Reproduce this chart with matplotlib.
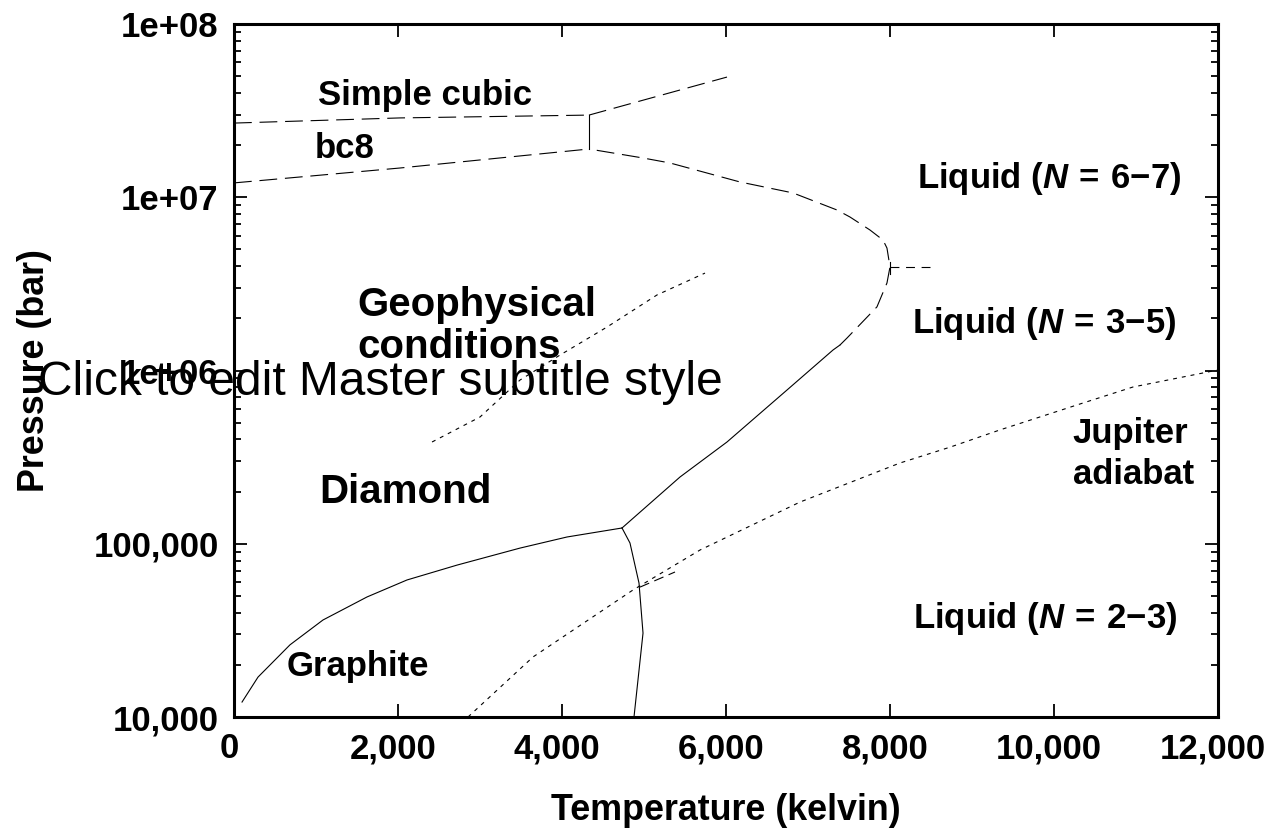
import numpy as np
import matplotlib
matplotlib.use("Agg")
import matplotlib.pyplot as plt
import matplotlib.transforms as mtransforms
from matplotlib.ticker import LogLocator, NullFormatter

plt.rcParams['font.family'] = ['Liberation Sans', 'DejaVu Sans']
plt.rcParams['mathtext.fontset'] = 'custom'
plt.rcParams['mathtext.rm'] = 'Liberation Sans:bold'
plt.rcParams['mathtext.it'] = 'Liberation Sans:italic:bold'
plt.rcParams['mathtext.bf'] = 'Liberation Sans:bold'

# --- data (temperature in K, pressure in bar) ---
graphite_diamond_T = [98, 293, 683, 1085, 1622, 2110, 2720, 3488, 4061, 4732]
graphite_diamond_P = [12200, 17000, 26100, 36300, 49300, 61800, 75300, 94400, 109400, 123300]

graphite_liquid_T = [4732, 4829, 4939, 4988, 4878]
graphite_liquid_P = [123300, 101000, 59300, 30500, 10000]

diamond_melt_T = [4732, 5439, 6012, 6744, 7305, 7390]
diamond_melt_P = [123300, 242800, 386600, 771600, 1.313e6, 1.403e6]

diamond_melt_dash_T = [7390, 7476, 7841, 7963, 8000, 7963, 7915, 7756, 7512, 7354, 6817, 6171, 5317, 4988, 4329]
diamond_melt_dash_P = [1.403e6, 1.54e6, 2.33e6, 3.2e6, 3.96e6, 5.09e6, 5.66e6, 6.47e6, 7.69e6, 8.44e6,
                       1.059e7, 1.225e7, 1.577e7, 1.685e7, 1.899e7]

bc8_diamond_T = [0, 2024, 4329]
bc8_diamond_P = [1.21e7, 1.475e7, 1.899e7]

sc_bc8_T = [0, 2024, 4329]
sc_bc8_P = [2.68e7, 2.87e7, 2.98e7]

sc_liquid_T = [4329, 6012]
sc_liquid_P = [2.98e7, 4.94e7]

triple_T = [4329, 4329]
triple_P = [2.98e7, 1.899e7]

liq_marker_T = [8000, 8500]
liq_marker_P = [3.96e6, 3.96e6]
liq_tick_T = [8000, 8000]
liq_tick_P = [4.23e6, 3.61e6]

short_dash_T = [4951, 5378]
short_dash_P = [56200, 68700]

geo_T = [2415, 3000, 3488, 3976, 4549, 5159, 5744]
geo_P = [386600, 539000, 881000, 1.228e6, 1.782e6, 2.73e6, 3.65e6]

jupiter_T = [2854, 3646, 4866, 5683, 6902, 8122, 8732, 9341, 10353, 10963, 12000]
jupiter_P = [10000, 22200, 54100, 92000, 174000, 292500, 361000, 454000, 649000, 803000, 1.007e6]

xticks = [0, 2000, 4000, 6000, 8000, 10000, 12000]
xtick_labels = ['0', '2,000', '4,000', '6,000', '8,000', '10,000', '12,000']
yticks = [1e4, 1e5, 1e6, 1e7, 1e8]
ytick_labels = ['10,000', '100,000', '1e+06', '1e+07', '1e+08']

fig = plt.figure(figsize=(12.68, 8.32), dpi=100)
ax = fig.add_axes([234/1268, 1-717/832, (1218-234)/1268, (717-24)/832])

lw = 0.8
dash = (16, 7)
dot = (3.5, 4.5)
ax.plot(graphite_diamond_T, graphite_diamond_P, color='black', lw=lw)
ax.plot(graphite_liquid_T, graphite_liquid_P, color='black', lw=lw)
ax.plot(diamond_melt_T, diamond_melt_P, color='black', lw=lw)
ax.plot(diamond_melt_dash_T, diamond_melt_dash_P, color='black', lw=lw, dashes=dash)
ax.plot(bc8_diamond_T, bc8_diamond_P, color='black', lw=lw, dashes=dash)
ax.plot(sc_bc8_T, sc_bc8_P, color='black', lw=lw, dashes=dash)
ax.plot(sc_liquid_T, sc_liquid_P, color='black', lw=lw, dashes=dash)
ax.plot(triple_T, triple_P, color='black', lw=lw)
ax.plot(liq_marker_T, liq_marker_P, color='black', lw=lw, dashes=(8, 6))
ax.plot(liq_tick_T, liq_tick_P, color='black', lw=lw)
ax.plot(short_dash_T, short_dash_P, color='black', lw=lw, dashes=(9, 5))
ax.plot(geo_T, geo_P, color='black', lw=lw, dashes=dot)
ax.plot(jupiter_T, jupiter_P, color='black', lw=lw, dashes=dot)

ax.set_yscale('log')
ax.set_xlim(0, 12000)
ax.set_ylim(1e4, 1e8)
ax.set_xticks(xticks, labels=xtick_labels)
ax.set_yticks(yticks, labels=ytick_labels)
ax.yaxis.set_minor_locator(LogLocator(base=10, subs=np.arange(2, 10)))
ax.yaxis.set_minor_formatter(NullFormatter())
ax.tick_params(which='major', direction='in', length=9.5, width=1.3, top=True, right=True,
               labelsize=25, pad=11)
ax.tick_params(which='minor', direction='in', length=5, width=1.3, right=True)
ax.tick_params(axis='x', which='minor', bottom=False, top=False)
shift = mtransforms.ScaledTranslation(-5/100, 0, fig.dpi_scale_trans)
for lab in ax.get_xticklabels():
    lab.set_fontweight('bold')
    lab.set_transform(lab.get_transform() + shift)
for lab in ax.get_yticklabels():
    lab.set_fontweight('bold')
for sp in ax.spines.values():
    sp.set_linewidth(2.2)

ax.set_xlabel('Temperature (kelvin)', fontsize=25.8, fontweight='bold', labelpad=20)
ax.set_ylabel('Pressure (bar)', fontsize=25.8, fontweight='bold', labelpad=30)

tk = dict(fontsize=25, fontweight='bold', transform=ax.transData)
ax.text(2329, 3.85e7, 'Simple cubic', ha='center', va='center', **tk)
ax.text(1354, 1.9e7, 'bc8', ha='center', va='center', **tk)
ax.text(9940, 1.29e7, r'Liquid ($N\,=\,6{-}7$)', ha='center', va='center', **tk)
ax.text(9880, 1.88e6, r'Liquid ($N\,=\,3{-}5$)', ha='center', va='center', **tk)
ax.text(9890, 3.72e4, r'Liquid ($N\,=\,2{-}3$)', ha='center', va='center', **tk)
ax.text(10230, 3.3e5, 'Jupiter\nadiabat', ha='left', va='center', linespacing=1.3, **tk)
ax.text(1512, 19500, 'Graphite', ha='center', va='center', **tk)

bk = dict(fontsize=29, fontweight='bold', transform=ax.transData)
ax.text(2085, 1.99e5, 'Diamond', ha='center', va='center', **bk)
ax.text(1500, 1.81e6, 'Geophysical\nconditions', ha='left', va='center', linespacing=1.15, **bk)

fig.text(38/1268, 1-395/832, 'Click to edit Master subtitle style', fontsize=34.5,
         ha='left', va='baseline', zorder=10)

fig.savefig('out.png', dpi=100)
